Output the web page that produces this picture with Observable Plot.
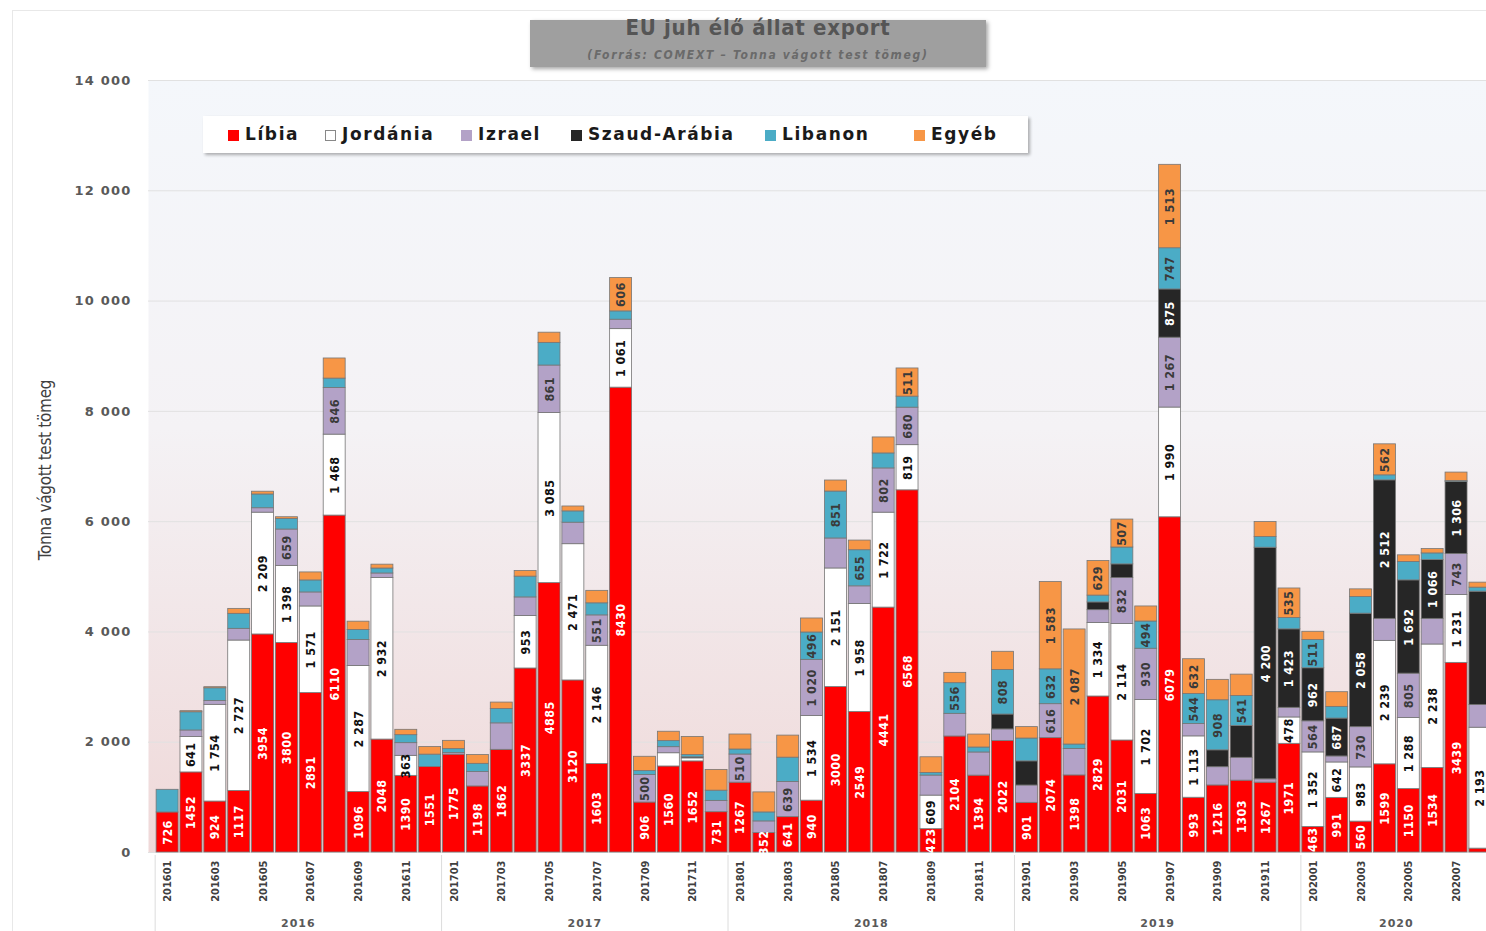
<!DOCTYPE html>
<html><head><meta charset="utf-8">
<script src="https://cdn.jsdelivr.net/npm/d3@7"></script>
<script src="https://cdn.jsdelivr.net/npm/@observablehq/plot@0.6"></script>
<style>
html,body{margin:0;padding:0;overflow:hidden;background:#fff;}
#wrap{position:relative;width:1486px;height:931px;overflow:hidden;}
#border{position:absolute;left:12px;top:10px;width:1480px;height:930px;border-left:1px solid #e8e8e8;border-top:1px solid #e8e8e8;}
#chart{position:absolute;left:0;top:0;width:1499px;}
#chart svg{max-width:none !important;height:931px !important;}
#title{position:absolute;left:530px;top:20px;width:456px;height:47px;background:#9f9f9f;box-shadow:2px 2px 4px rgba(0,0,0,.35);text-align:center;font-family:"Liberation Sans Narrow","DejaVu Sans Condensed",sans-serif;}
#title .t{font-size:22px;font-weight:bold;color:#555;margin-top:-5px;line-height:26px;letter-spacing:0.7px;}
#title .s{font-family:"DejaVu Sans Condensed",sans-serif;font-size:12px;font-style:italic;font-weight:bold;color:#6a6a6a;margin-top:7px;letter-spacing:1.7px;}
#legend{position:absolute;left:203px;top:116px;width:825px;height:37px;background:#fff;box-shadow:2px 2px 3px rgba(0,0,0,.3);}
#legend .item{position:absolute;top:8px;font-family:"DejaVu Sans",sans-serif;font-weight:bold;font-size:17px;letter-spacing:1.6px;color:#1a1a1a;white-space:nowrap;line-height:20px;}
#legend .sw{display:inline-block;width:11px;height:11px;margin-right:6px;vertical-align:-1px;box-sizing:border-box;}
#ylab{position:absolute;left:45px;top:470px;transform:translate(-50%,-50%) rotate(-90deg);font-family:"Liberation Sans Narrow","DejaVu Sans Condensed",sans-serif;font-size:17px;color:#404040;white-space:nowrap;letter-spacing:-0.3px;}
#chart g[aria-label="y-axis tick label"]{font-family:"DejaVu Sans",sans-serif;font-weight:bold;font-size:13px;letter-spacing:1.2px;fill:#595959;}
#chart g[aria-label="x-axis tick label"]{font-family:"DejaVu Sans Condensed",sans-serif;font-weight:bold;font-size:11px;fill:#404040;}
#chart g[aria-label="text"] text{letter-spacing:0.4px;}
</style></head>
<body>
<div id="wrap">
<div id="border"></div>
<div id="chart"></div>
<div id="title"><div class="t">EU juh élő állat export</div><div class="s">(Forrás: COMEXT – Tonna vágott test tömeg)</div></div>
<div id="legend"></div>
<div id="ylab">Tonna vágott test tömeg</div>
</div>
<script>
const months = ["201601","201602","201603","201604","201605","201606","201607","201608","201609","201610","201611","201612",
"201701","201702","201703","201704","201705","201706","201707","201708","201709","201710","201711","201712",
"201801","201802","201803","201804","201805","201806","201807","201808","201809","201810","201811","201812",
"201901","201902","201903","201904","201905","201906","201907","201908","201909","201910","201911","201912",
"202001","202002","202003","202004","202005","202006","202007","202008"];
const years = ["2016","2017","2018","2019","2020"];
const series = ["Líbia","Jordánia","Izrael","Szaud-Arábia","Libanon","Egyéb"];
const colors = ["#ff0000","#ffffff","#b3a2c7","#262626","#4bacc6","#f79646"];
const labelColors = ["#ffffff","#111111","#3a3a3a","#ffffff","#3a3a3a","#3a3a3a"];

const libia = [726,1452,924,1117,3954,3800,2891,6110,1096,2048,1390,1551,
1775,1198,1862,3337,4885,3120,1603,8430,906,1560,1652,731,
1267,352,641,940,3000,2549,4441,6568,423,2104,1394,2022,
901,2074,1398,2829,2031,1063,6079,993,1216,1303,1267,1971,
463,991,560,1599,1150,1534,3439,70];
const jordania = [0,641,1754,2727,2209,1398,1571,1468,2287,2932,363,0,
0,0,0,953,3085,2471,2146,1061,0,240,55,0,
0,0,0,1534,2151,1958,1722,819,609,0,0,0,
0,0,0,1334,2114,1702,1990,1113,0,0,0,478,
1352,642,983,2239,1288,2238,1231,2193];
const izrael = [0,120,70,212,80,659,254,846,471,80,230,0,
30,260,480,336,861,390,551,171,500,110,0,205,
510,212,639,1020,544,320,802,680,363,411,420,210,
314,616,480,232,832,930,1267,223,331,414,60,175,
564,109,730,399,805,465,743,411];
const szaud = [0,0,0,0,0,0,0,0,0,0,0,0,
0,0,0,0,0,0,0,0,0,0,20,0,
0,0,0,0,0,0,0,0,0,0,0,270,
438,0,0,140,248,0,875,0,306,579,4200,1423,
962,687,2058,2512,1692,1066,1306,2056];
const libanon = [411,330,230,272,250,193,218,170,181,90,145,224,
70,150,260,377,411,205,219,151,70,110,40,185,
91,163,440,496,851,655,272,200,48,556,90,808,
414,632,80,124,306,494,747,544,908,541,193,206,
511,212,302,91,333,121,20,73];
const egyeb = [0,20,20,90,50,30,145,365,151,70,97,139,
150,160,117,103,185,89,226,606,260,170,329,377,
272,363,400,254,200,175,290,511,284,187,235,330,
207,1583,2087,629,507,273,1513,632,370,389,272,535,
151,266,139,562,121,79,151,91];
const yTicks = [0,2000,4000,6000,8000,10000,12000,14000];
const xTickMonths = months.filter((m,i)=>i%2===0);
const hiddenLabels = ["201805|Izrael","202008|Szaud-Arábia","201910|Szaud-Arábia"];

const values = [libia,jordania,izrael,szaud,libanon,egyeb];
const data = [];
months.forEach((m,i)=>series.forEach((s,j)=>data.push({month:m, year:m.slice(0,4), series:s, value:values[j][i]})));

const spaceFmt = v => d3.format(",")(v).replace(/,/g," ");
function labelOf(d){
  if (hiddenLabels.includes(d.month+"|"+d.series)) return "";
  const v = d.value;
  if (d.series==="Líbia") return v>=300 ? String(v) : "";
  if (d.series==="Jordánia") return v>=300 ? spaceFmt(v) : "";
  if (d.series==="Szaud-Arábia") return v>=600 ? spaceFmt(v) : "";
  return v>=490 ? spaceFmt(v) : "";
}

const labelFont = "'Liberation Sans Narrow','DejaVu Sans Condensed',sans-serif";
const textMarks = series.map((s,j)=>Plot.text(data, Plot.stackY({
  x:"month", y:"value", z:"series", order: series,
  text: d => d.series===s ? labelOf(d) : "",
  rotate:-90, fill: labelColors[j], fontWeight:"bold", fontSize:12.5, fontFamily: labelFont
})));

const chart = Plot.plot({
  width:1499, height:931, marginTop:80, marginBottom:79, marginLeft:148, marginRight:0,
  style:{background:"transparent", overflow:"visible"},
  x:{type:"band", domain:months, paddingInner:0.08, paddingOuter:0.34, axis:null},
  y:{domain:[0,14000], axis:null},
  color:{domain:series, range:colors},
  marks:[
    Plot.frame({fill:"url(#bg)", stroke:null}),
    Plot.gridY(yTicks, {stroke:"#e1e1e1", strokeOpacity:1}),
    Plot.barY(data, {x:"month", y:"value", fill:"series", z:"series", order:series, stroke:"#767676", strokeWidth:0.8}),
    ...textMarks,
    Plot.axisY({ticks:yTicks, tickSize:0, tickPadding:17, tickFormat:spaceFmt, label:null}),
    Plot.axisX({ticks:xTickMonths, tickSize:0, tickRotate:-90, tickPadding:8, label:null})
  ]
});
document.getElementById("chart").appendChild(chart);

// gradient background
const svg = d3.select(chart);
const grad = svg.insert("defs",":first-child").append("linearGradient")
  .attr("id","bg").attr("x1",0).attr("y1",0).attr("x2",0).attr("y2",1);
grad.append("stop").attr("offset","0%").attr("stop-color","#f4f7fb");
grad.append("stop").attr("offset","45%").attr("stop-color","#f4f2f5");
grad.append("stop").attr("offset","100%").attr("stop-color","#efd8d8");

// year labels and separators from the x scale
const xs = chart.scale("x");
const step = xs.apply(months[1]) - xs.apply(months[0]);
const gap = step - xs.bandwidth;
const g = svg.append("g");
const bottom = 852;
years.forEach((y,k)=>{
  const ms = months.filter(m=>m.startsWith(y));
  const x0 = xs.apply(ms[0]) - gap/2;
  const x1 = xs.apply(ms[ms.length-1]) + xs.bandwidth + gap/2;
  g.append("line").attr("x1",x0).attr("x2",x0).attr("y1",bottom+3).attr("y2",931).attr("stroke","#dcdcdc");
  const cx = y==="2020" ? xs.apply(months[52]) - gap/2 : (x0+x1)/2;
  g.append("text").attr("x",cx).attr("y",927).attr("text-anchor","middle")
    .attr("font-family","DejaVu Sans, sans-serif").attr("font-weight","bold").attr("font-size",11)
    .attr("letter-spacing","1px").attr("fill","#595959").text(y);
});

// legend
const legend = d3.select("#legend");
const lefts = [25,122,258,368,562,711];
series.forEach((s,j)=>{
  const it = legend.append("div").attr("class","item").style("left",lefts[j]+"px");
  it.append("span").attr("class","sw").style("background",colors[j]).style("border", j===1 ? "1px solid #888" : "none");
  it.append("span").text(s);
});
</script>
</body></html>
